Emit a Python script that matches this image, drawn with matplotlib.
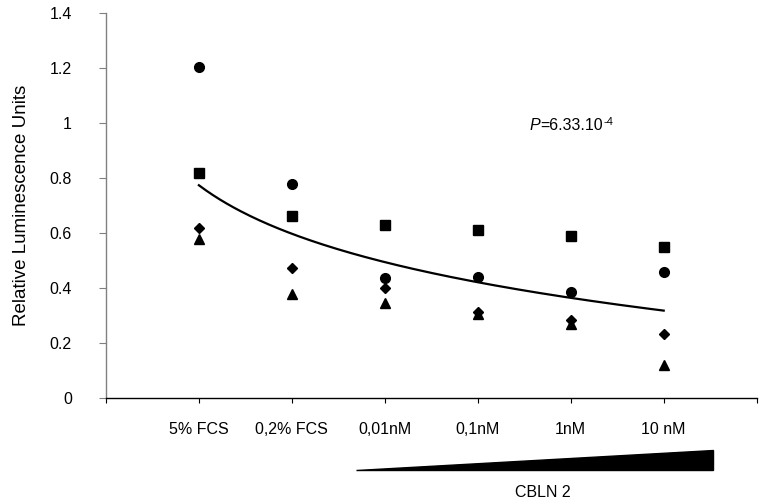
import numpy as np
import matplotlib
matplotlib.use('Agg')
import matplotlib.pyplot as plt
from matplotlib.patches import Polygon

plt.rcParams['font.family'] = ['Liberation Sans', 'DejaVu Sans']

# categories on the x axis
categories = ['5% FCS', '0,2% FCS', '0,01nM', '0,1nM', '1nM', '10 nM']

# four replicate series
circles = [1.205, 0.778, 0.436, 0.440, 0.385, 0.460]
squares = [0.818, 0.662, 0.629, 0.612, 0.590, 0.550]
diamonds = [0.618, 0.473, 0.400, 0.315, 0.285, 0.232]
triangles = [0.578, 0.378, 0.345, 0.305, 0.270, 0.120]

x = np.arange(1, len(categories) + 1)

fig = plt.figure(figsize=(7.62, 5.04), dpi=100)
ax = fig.add_axes([0.139, 0.21, 0.854, 0.764])

ms = 7
ax.plot(x, circles, 'o', color='black', ms=ms, clip_on=False)
ax.plot(x, squares, 's', color='black', ms=ms - 0.5, clip_on=False)
ax.plot(x, diamonds, 'D', color='black', ms=ms - 1.5, clip_on=False)
ax.plot(x, triangles, '^', color='black', ms=ms + 0.5, clip_on=False)

# logarithmic trend line fitted on all points
allx = np.tile(x, 4)
ally = np.concatenate([circles, squares, diamonds, triangles])
b, a = np.polyfit(np.log(allx), ally, 1)
xf = np.linspace(1, 6, 200)
ax.plot(xf, a + b * np.log(xf), color='black', lw=1.6)

ax.set_xlim(0, 7)
ax.set_ylim(0, 1.4)
ax.set_yticks(np.arange(0, 1.41, 0.2))
ax.set_yticklabels(['0', '0.2', '0.4', '0.6', '0.8', '1', '1.2', '1.4'])

# tick marks between categories, labels under the points
ax.xaxis.remove_overlapping_locs = False
ax.set_xticks(np.arange(0, 8))
ax.set_xticklabels([])
ax.set_xticks(x, minor=True)
ax.set_xticklabels(categories, minor=True)
ax.tick_params(axis='x', which='major', direction='out', length=3.6, color='black')
ax.tick_params(axis='x', which='minor', length=0, pad=17, labelsize=11.5)
ax.tick_params(axis='y', direction='out', length=5, color='#808080', labelsize=11.5, pad=19.5)

ax.spines['top'].set_visible(False)
ax.spines['right'].set_visible(False)
ax.spines['left'].set_color('#808080')
ax.spines['left'].set_linewidth(1)
ax.spines['bottom'].set_color('black')
ax.spines['bottom'].set_linewidth(1)

ax.set_ylabel('Relative Luminescence Units', fontsize=13.5, labelpad=14)

# P value, italic P and small superscript
t1 = ax.text(4.56, 0.99, 'P', fontsize=11.5, style='italic', va='center', ha='left')
t2 = ax.annotate('=6.33.10', xy=(1, 0), xycoords=t1, fontsize=11.5, va='bottom', ha='left')
ax.annotate('-4', xy=(1, 1), xycoords=t2, xytext=(0, 1), textcoords='offset points',
            fontsize=8, va='top', ha='left')

# concentration wedge under the axis
wedge = Polygon([[2.69, -0.262], [6.53, -0.262], [6.53, -0.189]],
                closed=True, color='black', clip_on=False)
ax.add_patch(wedge)
ax.text(4.70, -0.342, 'CBLN 2', fontsize=11.5, ha='center', va='center')

fig.savefig('out.png', dpi=100)
